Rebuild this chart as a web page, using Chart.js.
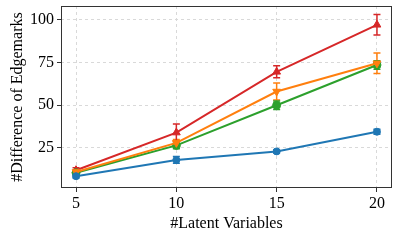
<!DOCTYPE html>
<html>
<head>
<meta charset="utf-8">
<script src="https://cdn.jsdelivr.net/npm/chart.js@4.4.1/dist/chart.umd.min.js"></script>
<style>
  html, body { margin: 0; padding: 0; background: #fff; }
  canvas { display: block; }
</style>
</head>
<body>
<canvas id="myChart" width="399" height="242"></canvas>
<script>
// values
const latentVars = [5, 10, 15, 20];
const xTicks = [5, 10, 15, 20];
const yTicks = [25, 50, 75, 100];

const blueVals = [8.5, 18, 23, 34.5];
const blueErr = [1, 2, 1, 1.5];
const orangeVals = [11, 28, 58, 74.5];
const orangeErr = [1, 2, 5, 6];
const greenVals = [10.5, 26.5, 50, 73.5];
const greenErr = [1, 2, 2.5, 2.5];
const redVals = [12, 34, 69.5, 97];
const redErr = [1.5, 5, 3.5, 6];

function pts(vals) {
    return vals.map((v, i) => ({ x: latentVars[i], y: v }));
}

// error bars + frame around the plot area
const errorBars = {
    id: 'errorBars',
    beforeDatasetsDraw(chart) {
        const c = chart.ctx;
        const xs = chart.scales.x, ys = chart.scales.y;
        chart.data.datasets.forEach(ds => {
            c.save();
            c.strokeStyle = ds.borderColor;
            c.lineWidth = 1.5;
            ds.data.forEach((p, i) => {
                const e = ds.err[i];
                const px = xs.getPixelForValue(p.x);
                const top = ys.getPixelForValue(p.y + e);
                const bot = ys.getPixelForValue(p.y - e);
                c.beginPath();
                c.moveTo(px, top); c.lineTo(px, bot);
                c.moveTo(px - 3.5, top); c.lineTo(px + 3.5, top);
                c.moveTo(px - 3.5, bot); c.lineTo(px + 3.5, bot);
                c.stroke();
            });
            c.restore();
        });
    },
    afterDraw(chart) {
        const a = chart.chartArea, c = chart.ctx;
        c.save();
        c.strokeStyle = '#333';
        c.lineWidth = 1;
        c.strokeRect(a.left + 0.5, a.top + 0.5, a.right - a.left - 1, a.bottom - a.top - 1);
        c.restore();
    }
};

const serif = "'Liberation Serif', 'DejaVu Serif', serif";

const ctx = document.getElementById('myChart').getContext('2d');
const myChart = new Chart(ctx, {
    type: 'line',
    plugins: [errorBars],
    data: {
        datasets: [{
            label: 'blue',
            data: pts(blueVals),
            err: blueErr,
            borderColor: '#1f77b4',
            backgroundColor: '#1f77b4',
            pointStyle: 'circle',
            pointRadius: 3.5
        },
        {
            label: 'orange',
            data: pts(orangeVals),
            err: orangeErr,
            borderColor: '#ff7f0e',
            backgroundColor: '#ff7f0e',
            pointStyle: 'triangle',
            rotation: 180,
            pointRadius: 4.5
        },
        {
            label: 'green',
            data: pts(greenVals),
            err: greenErr,
            borderColor: '#2ca02c',
            backgroundColor: '#2ca02c',
            pointStyle: 'circle',
            pointRadius: 4
        },
        {
            label: 'red',
            data: pts(redVals),
            err: redErr,
            borderColor: '#d62728',
            backgroundColor: '#d62728',
            pointStyle: 'triangle',
            pointRadius: 4.5
        }]
    },
    options: {
        responsive: false,
        animation: false,
        devicePixelRatio: 1,
        datasets: { line: { borderWidth: 2, tension: 0, pointBorderWidth: 1 } },
        layout: { padding: { top: 6, right: 7, left: 0, bottom: 0 } },
        scales: {
            x: {
                type: 'linear',
                min: 4.25,
                max: 20.75,
                afterBuildTicks: s => { s.ticks = xTicks.map(v => ({ value: v })); },
                afterFit: s => { s.height = 54; s.paddingLeft = 0; s.paddingRight = 0; },
                grid: { color: '#d9d9d9', tickColor: '#333', tickLength: 4 },
                border: { display: false, dash: [3, 3] },
                ticks: { color: '#000', font: { family: serif, size: 16 }, padding: 2, maxRotation: 0 },
                title: { display: true, text: '#Latent Variables', color: '#000', font: { family: serif, size: 16 }, padding: { top: 0, bottom: 9 } }
            },
            y: {
                min: 1.6,
                max: 108,
                afterBuildTicks: s => { s.ticks = yTicks.map(v => ({ value: v })); },
                afterFit: s => { s.width = 61; s.paddingTop = 0; s.paddingBottom = 0; },
                grid: { color: '#d9d9d9', tickColor: '#333', tickLength: 4 },
                border: { display: false, dash: [3, 3] },
                ticks: { color: '#000', font: { family: serif, size: 16 }, padding: 3 },
                title: { display: true, text: '#Difference of Edgemarks', color: '#000', font: { family: serif, size: 16 }, padding: { top: 8, bottom: 0 } }
            }
        },
        plugins: {
            legend: { display: false },
            tooltip: { enabled: false }
        }
    }
});
</script>
</body>
</html>
